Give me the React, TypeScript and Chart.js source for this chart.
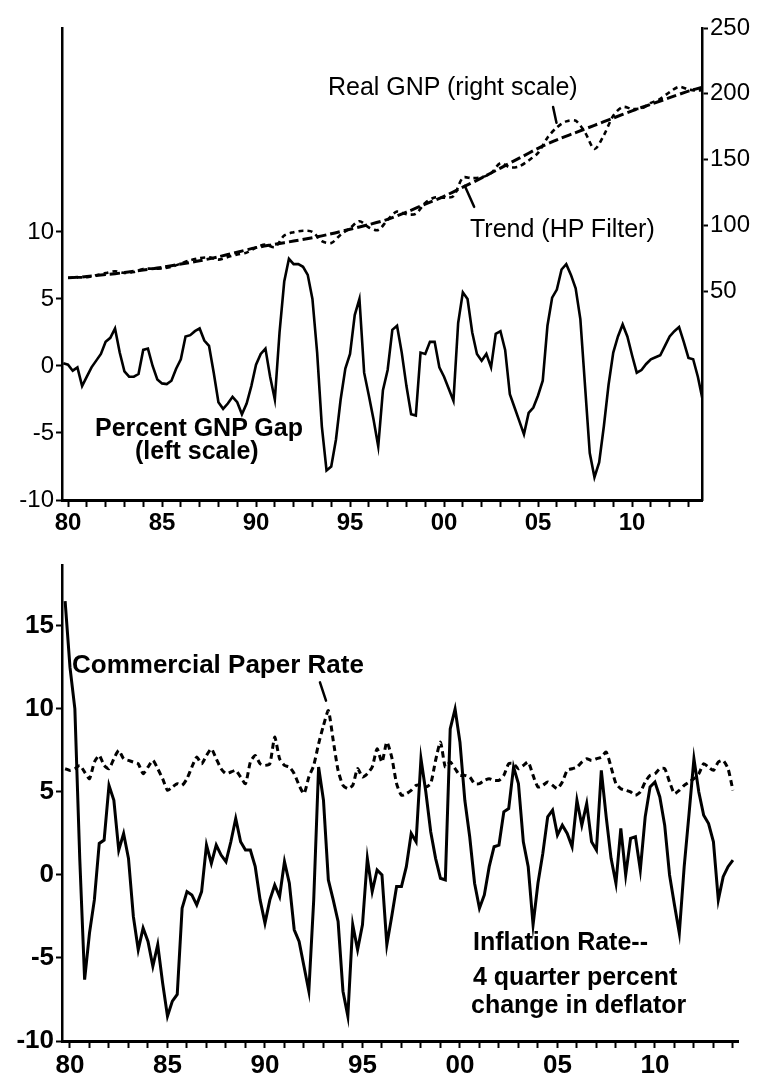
import React, { useEffect, useRef } from "react";
import { Chart, registerables } from "chart.js";

Chart.register(...registerables);

// ---------------- DATA ----------------
// Top panel: quarterly percent GNP gap (left scale), starting 1979Q4
const GAP_START = 1979.75;
const gapPct = [
  0.2,
  0.1, -0.35, -0.1, -1.5,
  -0.8, -0.1, 0.4, 0.9,
  1.8, 2.1, 2.8, 1.0,
  -0.4, -0.8, -0.8, -0.6,
  1.2, 1.3, 0.0, -1.0,
  -1.3, -1.35, -1.1, -0.2,
  0.5, 2.2, 2.3, 2.6,
  2.8, 1.9, 1.5, -0.5,
  -2.7, -3.2, -2.8, -2.3,
  -2.7, -3.6, -2.8, -1.5,
  0.1, 0.9, 1.3, -0.8,
  -2.5, 2.5, 6.3, 8.0,
  7.6, 7.6, 7.4, 6.8,
  5.0, 1.0, -4.5, -7.8,
  -7.5, -5.5, -2.5, -0.2,
  0.9, 3.8, 5.0, -0.5,
  -2.2, -4.0, -6.0, -1.8,
  -0.3, 2.7, 3.0, 1.0,
  -1.5, -3.6, -3.7, 1.0,
  0.9, 1.8, 1.8, -0.1,
  -0.8, -1.7, -2.6, 3.2,
  5.5, 5.0, 2.5, 0.9,
  0.4, 0.9, -0.1, 2.4,
  2.6, 1.2, -2.1, -3.1,
  -4.1, -5.1, -3.5, -3.1,
  -2.2, -1.1, 3.0, 5.1,
  5.7, 7.2, 7.6, 6.8,
  5.8, 3.5, -1.5, -6.5,
  -8.3, -7.2, -4.5, -1.4,
  1.0, 2.2, 3.1, 2.2,
  0.8, -0.5, -0.3, 0.15,
  0.5, 0.65, 0.8, 1.5,
  2.2, 2.6, 2.9, 1.8,
  0.6, 0.5, -0.8, -2.5,
];

// Real GNP (right scale), semiannual readings
const gnpYears = [
  1980, 1980.5, 1981, 1981.5, 1982, 1982.5, 1983, 1983.5, 1984, 1984.5,
  1985, 1985.5, 1986, 1986.5, 1987, 1987.5, 1988, 1988.5, 1989, 1989.5,
  1990, 1990.5, 1991, 1991.5, 1992, 1992.5, 1993, 1993.5, 1994, 1994.5,
  1995, 1995.5, 1996, 1996.5, 1997, 1997.5, 1998, 1998.5, 1999, 1999.5,
  2000, 2000.5, 2001, 2001.5, 2002, 2002.5, 2003, 2003.5, 2004, 2004.5,
  2005, 2005.5, 2006, 2006.5, 2007, 2007.5, 2008, 2008.5, 2009, 2009.5,
  2010, 2010.5, 2011, 2011.5, 2012, 2012.5, 2013, 2013.5, 2013.75,
];
const realGnp = [
  60.1, 60.4, 60.5, 62.0, 63.6, 65.0, 63.7, 64.5, 66.8, 67.0,
  67.1, 68.4, 70.9, 73.4, 75.0, 75.6, 73.9, 75.8, 77.8, 79.2,
  83.1, 85.3, 83.4, 92.2, 94.7, 95.8, 95.0, 87.9, 86.5, 92.8,
  97.9, 103.1, 98.3, 96.4, 104.2, 110.4, 108.4, 108.8, 117.0, 121.1,
  121.0, 122.2, 136.1, 135.8, 136.5, 139.6, 147.2, 144.1, 144.8, 149.3,
  155.0, 166.6, 174.4, 179.0, 179.5, 170.6, 158.0, 168.5, 183.3, 189.9,
  188.5, 188.9, 193.0, 196.1, 201.3, 205.3, 203.2, 202.4, 203.0,
];

// HP-filter trend (right scale), annual readings
const trendYears = [
  1980, 1981, 1982, 1983, 1984, 1985, 1986, 1987, 1988, 1989,
  1990, 1991, 1992, 1993, 1994, 1995, 1996, 1997, 1998, 1999,
  2000, 2001, 2002, 2003, 2004, 2005, 2006, 2007, 2008, 2009,
  2010, 2011, 2012, 2013, 2013.75,
];
const trendHP = [
  60, 61, 62.5, 64, 66, 68, 70.5, 73, 76, 79.5,
  83, 85.5, 88, 90.5, 93.5, 97, 100.5, 104.5, 110, 116,
  122, 129, 136, 143.5, 151, 158.5, 165, 170.5, 176, 181.5,
  187, 192, 197, 202, 205,
];

// Bottom panel: quarterly series starting 1979Q4
const BOTTOM_START = 1979.75;
const inflationRate = [
  16.5,
  12.5, 10.0, 1.0, -6.3,
  -3.5, -1.5, 1.9, 2.1,
  5.4, 4.5, 1.5, 2.5,
  1.0, -2.5, -4.5, -3.2,
  -4.0, -5.5, -4.2, -6.5,
  -8.5, -7.6, -7.2, -2.0,
  -1.0, -1.2, -1.8, -1.0,
  1.8, 0.7, 1.8, 1.2,
  0.8, 2.0, 3.4, 2.0,
  1.5, 1.5, 0.5, -1.5,
  -2.9, -1.5, -0.6, -1.3,
  0.8, -0.5, -3.3, -4.0,
  -5.5, -7.0, -1.5, 6.5,
  4.5, -0.3, -1.5, -2.8,
  -7.0, -8.5, -3.0, -4.5,
  -3.0, 1.0, -1.0, 0.3,
  0.0, -4.2, -2.5, -0.7,
  -0.7, 0.5, 2.5, 2.0,
  7.0, 5.0, 2.6, 1.0,
  -0.2, -0.3, 8.8, 10.0,
  8.0, 4.5, 2.3, -0.5,
  -2.0, -1.2, 0.5, 1.7,
  1.8, 3.8, 4.0, 6.5,
  5.5, 2.0, 0.5, -3.0,
  -0.5, 1.3, 3.5, 3.9,
  2.4, 3.0, 2.5, 1.7,
  4.5, 3.0, 4.3, 2.0,
  1.5, 6.3, 3.5, 1.0,
  -0.5, 2.8, 0.0, 2.2,
  2.3, 0.3, 3.5, 5.3,
  5.6, 4.7, 3.0, 0.0,
  -1.8, -3.5, 0.5, 3.7,
  7.0, 5.0, 3.6, 3.1,
  2.0, -1.5, -0.1, 0.5,
  0.9,
];
const commercialPaperRate = [
  6.4,
  6.3, 6.4, 6.6, 6.2,
  5.8, 6.8, 7.2, 6.6,
  6.4, 7.0, 7.5, 7.0,
  6.9, 6.8, 6.7, 6.1,
  6.5, 6.9, 6.4, 5.8,
  5.1, 5.3, 5.5, 5.4,
  5.8, 6.5, 7.1, 6.7,
  7.2, 7.6, 7.0, 6.4,
  6.1, 6.2, 6.3, 5.9,
  5.5, 6.8, 7.2, 6.7,
  6.6, 6.7, 8.3, 7.0,
  6.6, 6.5, 6.1, 5.4,
  4.9, 5.9, 6.6, 7.9,
  9.0, 9.9, 8.1, 6.3,
  5.4, 5.2, 5.4, 6.4,
  5.9, 6.1, 6.5, 7.6,
  6.8, 8.0, 7.1, 5.5,
  4.8, 4.9, 5.1, 5.4,
  5.4, 5.3, 5.5, 6.9,
  8.0, 6.5, 6.8, 6.4,
  6.0, 6.0, 5.9, 5.5,
  5.5, 5.7, 5.8, 5.7,
  5.7, 6.0, 6.7, 6.7,
  6.4, 6.6, 6.8, 6.0,
  5.3, 5.4, 5.6, 5.4,
  5.2, 5.6, 6.3, 6.4,
  6.5, 6.8, 7.0, 6.9,
  7.0, 7.1, 7.4, 6.5,
  5.5, 5.2, 5.1, 5.0,
  4.8, 5.0, 5.6, 6.0,
  6.1, 6.4, 6.4, 5.6,
  4.9, 5.1, 5.4, 5.6,
  5.8, 6.1, 6.7, 6.5,
  6.3, 6.8, 6.9, 6.4,
  5.1,
];

// Axis ticks
const majorYears = [1980, 1985, 1990, 1995, 2000, 2005, 2010];
const yearLabels = ["80", "85", "90", "95", "00", "05", "10"];
const topMinorYears = Array.from({ length: 34 }, (_, i) => 1980 + i); // 1980..2013
const bottomMinorYears = Array.from({ length: 35 }, (_, i) => 1980 + i); // 1980..2014
const gapTicks = [-10, -5, 0, 5, 10];
const gnpTicks = [50, 100, 150, 200, 250];
const bottomTicks = [-10, -5, 0, 5, 10, 15];

// Annotation pointer lines (data coordinates)
type Pointer = { x1: number; y1: number; x2: number; y2: number; yAxis: string };
const topPointers: Pointer[] = [
  { x1: 2005.8, y1: 190, x2: 2005.98, y2: 178, yAxis: "y2" },
  { x1: 2001.1, y1: 130, x2: 2001.6, y2: 114, yAxis: "y2" },
];
const bottomPointers: Pointer[] = [
  { x1: 1992.82, y1: 11.6, x2: 1993.13, y2: 10.5, yAxis: "y" },
];

// ---------------- HELPERS ----------------
const FONT = "'Liberation Sans', Arial, Helvetica, sans-serif";

const quarterly = (start: number, vals: number[]) =>
  vals.map((v, i) => ({ x: start + i * 0.25, y: v }));
const paired = (xs: number[], ys: number[]) => xs.map((x, i) => ({ x, y: ys[i] }));

const pointerPlugin = (pointers: Pointer[]) => ({
  id: "pointers",
  afterDatasetsDraw(chart: any) {
    const ctx = chart.ctx;
    const xs = chart.scales.x;
    ctx.save();
    ctx.strokeStyle = "#000";
    ctx.lineWidth = 2.5;
    ctx.lineCap = "round";
    pointers.forEach((p) => {
      const ys = chart.scales[p.yAxis];
      ctx.beginPath();
      ctx.moveTo(xs.getPixelForValue(p.x1), ys.getPixelForValue(p.y1));
      ctx.lineTo(xs.getPixelForValue(p.x2), ys.getPixelForValue(p.y2));
      ctx.stroke();
    });
    ctx.restore();
  },
});

const yearAxis = (min: number, max: number, minor: number[], height: number, size: number, weight: string) => ({
  type: "linear",
  min,
  max,
  afterBuildTicks: (s: any) => {
    s.ticks = minor.map((v) => ({ value: v }));
  },
  afterFit: (s: any) => {
    s.height = height;
  },
  ticks: {
    autoSkip: false,
    maxRotation: 0,
    minRotation: 0,
    padding: 2,
    color: "#000",
    font: { family: FONT, size, weight },
    callback: (v: number) => {
      const i = majorYears.indexOf(Math.round(v));
      return i >= 0 && Math.abs(v - majorYears[i]) < 1e-6 ? yearLabels[i] : "";
    },
  },
  grid: { drawOnChartArea: false, drawTicks: true, tickLength: 7, tickWidth: 2, tickColor: "#000" },
  border: { display: true, color: "#000", width: 3 },
});

const valueAxis = (
  position: string,
  min: number,
  max: number,
  ticks: number[],
  width: number,
  size: number,
  weight: string
) => ({
  type: "linear",
  position,
  min,
  max,
  afterBuildTicks: (s: any) => {
    s.ticks = ticks.map((v) => ({ value: v }));
  },
  afterFit: (s: any) => {
    s.width = width;
  },
  ticks: { padding: 2, color: "#000", font: { family: FONT, size, weight } },
  grid: { drawOnChartArea: false, drawTicks: true, tickLength: 6, tickWidth: 2, tickColor: "#000" },
  border: { display: true, color: "#000", width: 2.5 },
});

// ---------------- COMPONENT ----------------
export default function App() {
  const topRef = useRef<HTMLCanvasElement | null>(null);
  const botRef = useRef<HTMLCanvasElement | null>(null);

  useEffect(() => {
    const top = new Chart(topRef.current as HTMLCanvasElement, {
      type: "line",
      data: {
        datasets: [
          {
            label: "Percent GNP Gap",
            data: quarterly(GAP_START, gapPct),
            yAxisID: "y",
            borderColor: "#000",
            borderWidth: 2.6,
            pointRadius: 0,
            tension: 0,
          },
          {
            label: "Real GNP",
            data: paired(gnpYears, realGnp),
            yAxisID: "y2",
            borderColor: "#000",
            borderWidth: 2.6,
            borderDash: [5, 4],
            pointRadius: 0,
            tension: 0.3,
          },
          {
            label: "Trend (HP Filter)",
            data: paired(trendYears, trendHP),
            yAxisID: "y2",
            borderColor: "#000",
            borderWidth: 3,
            borderDash: [10, 4],
            pointRadius: 0,
            tension: 0.3,
          },
        ],
      },
      options: {
        responsive: false,
        animation: false,
        devicePixelRatio: 1,
        layout: { padding: { top: 28, left: 0, right: 0, bottom: 0 } },
        plugins: { legend: { display: false }, tooltip: { enabled: false } },
        scales: {
          x: yearAxis(1979.68, 2013.72, topMinorYears, 40, 24, "bold") as any,
          y: valueAxis("left", -10, 25.22, gapTicks, 62, 24, "normal") as any,
          y2: valueAxis("right", -108.9, 250, gnpTicks, 60, 24, "normal") as any,
        },
      },
      plugins: [pointerPlugin(topPointers)],
    });

    const bottom = new Chart(botRef.current as HTMLCanvasElement, {
      type: "line",
      data: {
        datasets: [
          {
            label: "Inflation Rate",
            data: quarterly(BOTTOM_START, inflationRate),
            yAxisID: "y",
            borderColor: "#000",
            borderWidth: 3,
            pointRadius: 0,
            tension: 0,
          },
          {
            label: "Commercial Paper Rate",
            data: quarterly(BOTTOM_START, commercialPaperRate),
            yAxisID: "y",
            borderColor: "#000",
            borderWidth: 3,
            borderDash: [6, 4],
            pointRadius: 0,
            tension: 0.2,
          },
        ],
      },
      options: {
        responsive: false,
        animation: false,
        devicePixelRatio: 1,
        layout: { padding: { top: 25, left: 0, right: 24, bottom: 0 } },
        plugins: { legend: { display: false }, tooltip: { enabled: false } },
        scales: {
          x: yearAxis(1979.59, 2014.26, bottomMinorYears, 41, 26, "bold") as any,
          y: valueAxis("left", -10, 18.67, bottomTicks, 62, 26, "bold") as any,
        },
      },
      plugins: [pointerPlugin(bottomPointers)],
    });

    return () => {
      top.destroy();
      bottom.destroy();
    };
  }, []);

  const label = (text: string, left: number, top: number, size: number, weight: string, extra: any = {}) => (
    <div
      style={{
        position: "absolute",
        left,
        top,
        fontFamily: FONT,
        fontSize: size,
        fontWeight: weight as any,
        lineHeight: `${size}px`,
        whiteSpace: "nowrap",
        color: "#000",
        ...extra,
      }}
    >
      {text}
    </div>
  );

  return (
    <div style={{ position: "absolute", left: 0, top: 0, width: 762, height: 1082, background: "#fff", overflow: "hidden" }}>
      <canvas ref={topRef} width={762} height={540} style={{ position: "absolute", left: 0, top: 0, width: 762, height: 540 }} />
      <canvas ref={botRef} width={762} height={542} style={{ position: "absolute", left: 0, top: 540, width: 762, height: 542 }} />
      {label("Real GNP (right scale)", 328, 74, 25, "normal")}
      {label("Trend (HP Filter)", 470, 216, 25, "normal")}
      {label("Percent GNP Gap", 95, 415, 25, "bold")}
      {label("(left scale)", 135, 438, 25, "bold")}
      {label("Commercial Paper Rate", 72, 651, 26, "bold")}
      {label("Inflation Rate--", 473, 929, 25, "bold")}
      {label("4 quarter percent", 473, 964, 25, "bold")}
      {label("change in deflator", 471, 992, 25, "bold")}
    </div>
  );
}
